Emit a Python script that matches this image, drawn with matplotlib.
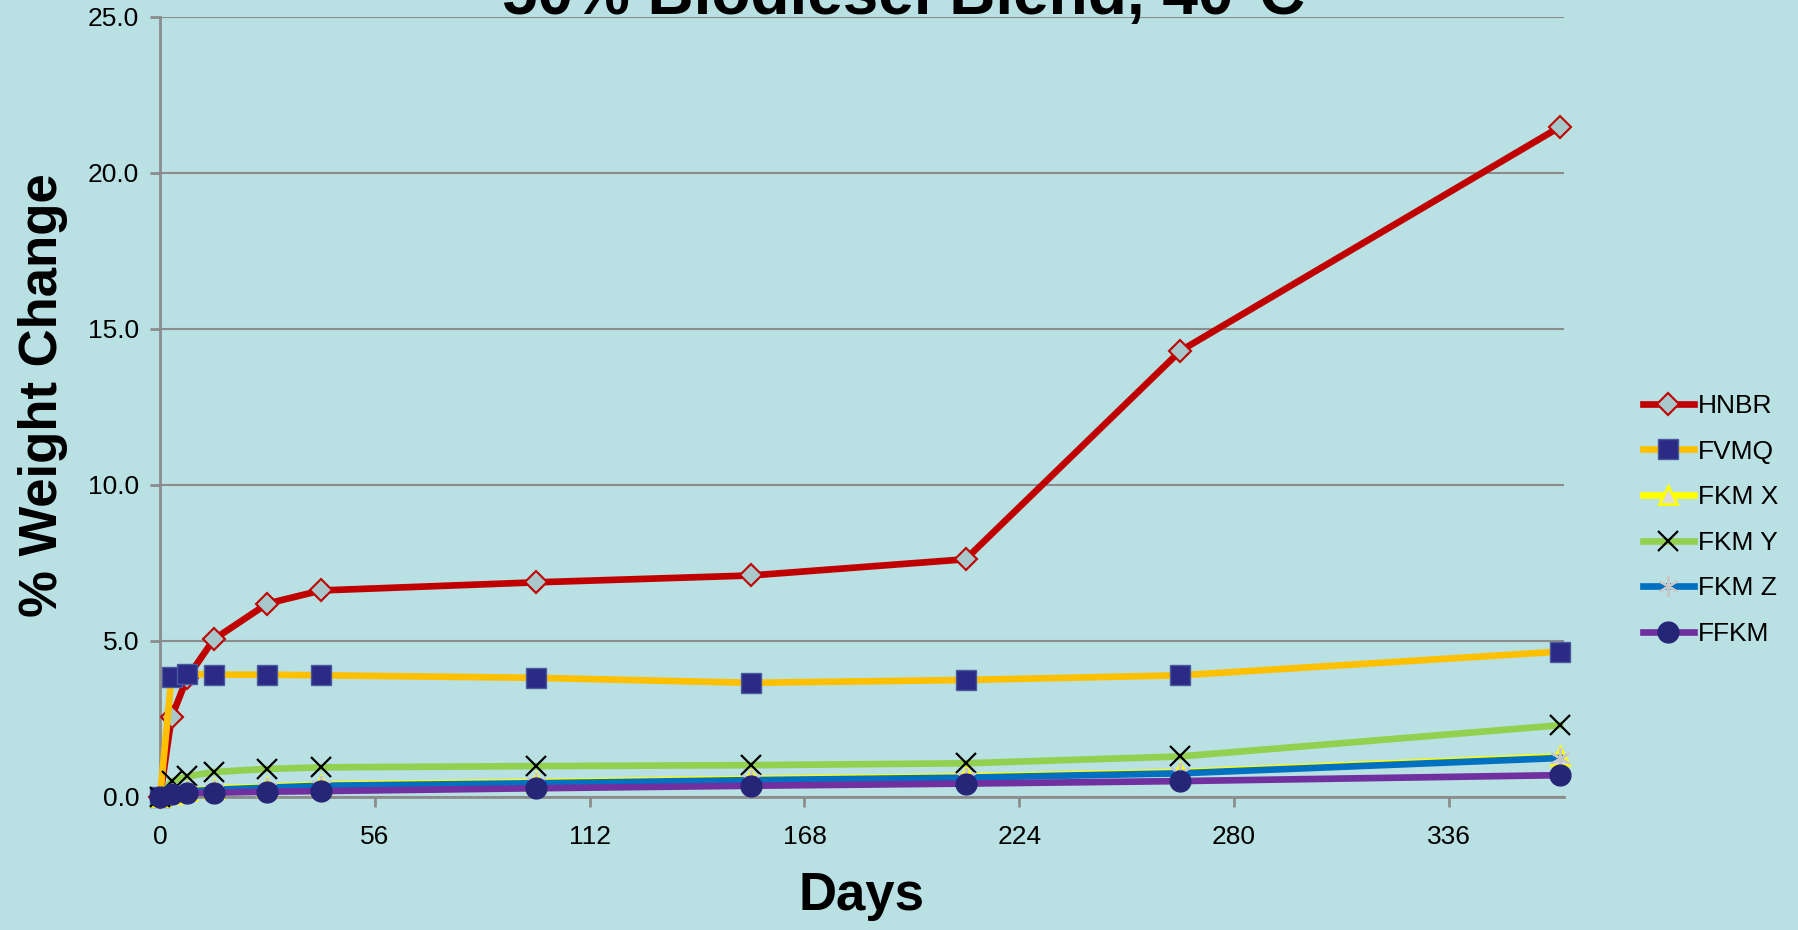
import matplotlib.pyplot as plt
from matplotlib.lines import Line2D

plt.rcParams["font.family"] = ["Liberation Sans", "DejaVu Sans"]

BG = "#b9e0e3"
GRID = "#8c8c8c"

days = [0, 3, 7, 14, 28, 42, 98, 154, 210, 266, 365]

hnbr = [0.0, 2.55, 3.8, 5.05, 6.2, 6.62, 6.88, 7.1, 7.62, 14.3, 21.48]
fvmq = [0.0, 3.85, 3.95, 3.92, 3.92, 3.9, 3.82, 3.66, 3.75, 3.9, 4.66]
fkm_x = [0.0, 0.1, 0.2, 0.27, 0.33, 0.4, 0.48, 0.58, 0.66, 0.8, 1.3]
fkm_y = [0.0, 0.5, 0.66, 0.8, 0.9, 0.95, 0.99, 1.02, 1.08, 1.3, 2.3]
fkm_z = [0.0, 0.12, 0.18, 0.23, 0.3, 0.36, 0.44, 0.54, 0.62, 0.76, 1.25]
ffkm = [0.0, 0.1, 0.13, 0.14, 0.17, 0.19, 0.28, 0.36, 0.43, 0.51, 0.7]

series = [
    ("HNBR", hnbr, dict(color="#c00000", marker="D", ms=11, mfc="#a8c8cc", mec="#c00000", mew=1.5)),
    ("FVMQ", fvmq, dict(color="#ffc000", marker="s", ms=15, mfc="#2b2a85", mec="#4a5aa0", mew=1)),
    ("FKM X", fkm_x, dict(color="#ffff00", marker="^", ms=13, mfc="#dcdcdc", mec="#ffff00", mew=2)),
    ("FKM Y", fkm_y, dict(color="#92d050", marker="x", ms=14, mfc="black", mec="black", mew=1.6)),
    ("FKM Z", fkm_z, dict(color="#0070c0", marker=(6, 2, 0), ms=15, mfc="#c8c8c8", mec="#c8c8c8", mew=1.6)),
    ("FFKM", ffkm, dict(color="#7030a0", marker="o", ms=15, mfc="#262678", mec="#262678", mew=1)),
]

fig = plt.figure(figsize=(17.99, 9.30), dpi=100, facecolor=BG)
ax = fig.add_axes([160 / 1799, 1 - 797 / 930, (1564 - 160) / 1799, (797 - 17) / 930])
ax.set_facecolor(BG)

handles = []
for name, vals, style in series:
    ax.plot(days, vals, lw=4.8, clip_on=False, zorder=3, **style)
    handles.append(Line2D([], [], lw=4.8, label=name, **style))

ax.set_xlim(0, 366)
ax.set_ylim(0, 25)
ax.set_xticks([0, 56, 112, 168, 224, 280, 336])
ax.set_yticks([0, 5, 10, 15, 20, 25])
ax.set_yticklabels(["0.0", "5.0", "10.0", "15.0", "20.0", "25.0"])
ax.tick_params(axis="both", labelsize=19, color=GRID, length=7, width=2, direction="out", pad=8)
ax.tick_params(axis="x", pad=13)

ax.grid(axis="y", color=GRID, lw=1.5)
ax.set_axisbelow(True)
for s in ["top", "right"]:
    ax.spines[s].set_visible(False)
for s in ["left", "bottom"]:
    ax.spines[s].set_color(GRID)
    ax.spines[s].set_linewidth(2)

ax.set_xlabel("Days", fontsize=38, fontweight="bold", labelpad=16)
ax.set_ylabel("% Weight Change", fontsize=38, fontweight="bold")
ax.yaxis.set_label_coords(-0.0655, 0.515)

fig.text(0.502, 1 - 14 / 930, "50% Biodiesel Blend, 40°C", ha="center", va="baseline",
         fontsize=46, fontweight="bold")

fig.legend(handles=handles, loc="center left", bbox_to_anchor=(1632 / 1799, 1 - 520 / 930),
           frameon=False, fontsize=19, handlelength=1.95, handletextpad=0.15, labelspacing=0.82,
           borderaxespad=0)

fig.savefig("out.png", dpi=100, facecolor=BG)
